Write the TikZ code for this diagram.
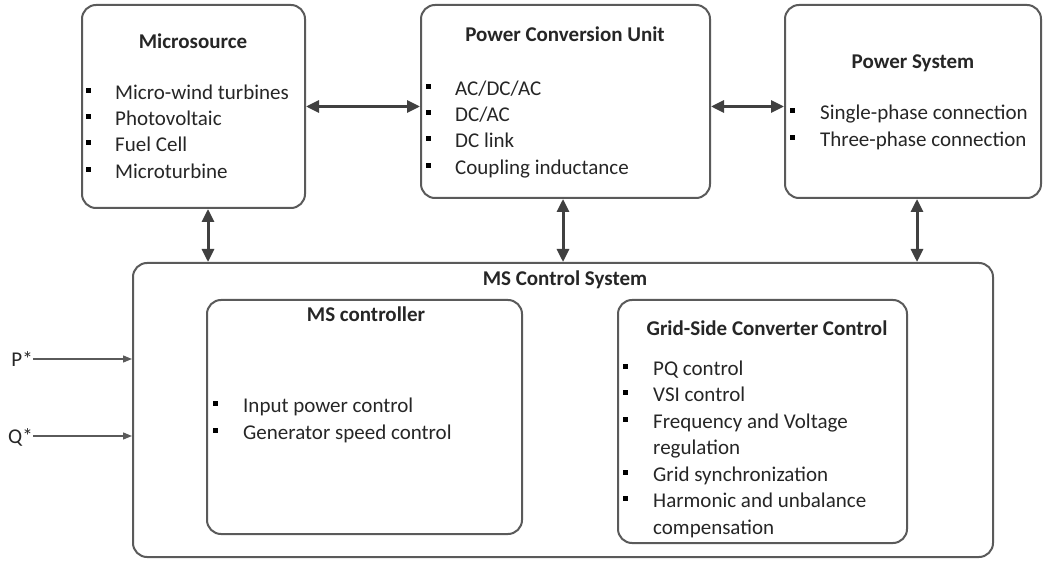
\documentclass[tikz,border=0pt]{standalone}
\usepackage{fontspec}
\setmainfont{Carlito}
\usetikzlibrary{arrows.meta}
\definecolor{edge}{HTML}{5A5A5A}
\definecolor{ink}{HTML}{262626}
\definecolor{arr}{HTML}{404040}
\tikzset{
 box/.style={draw=edge, line width=2pt, rounded corners=14pt, inner sep=0pt},
 ttl/.style={font=\fontsize{21}{25}\selectfont\bfseries, text=ink, anchor=base, inner sep=0pt},
 item/.style={font=\fontsize{21}{25}\selectfont, text=ink, anchor=base west, inner sep=0pt},
 bul/.style={fill=black, minimum size=5pt, inner sep=0pt},
 dbl/.style={{Triangle[length=13pt,width=12pt]}-{Triangle[length=13pt,width=12pt]}, line width=3pt, draw=arr},
 inp/.style={-{Triangle[length=9pt,width=7pt]}, line width=1.4pt, draw=edge}
}
\begin{document}
\begin{tikzpicture}[x=1pt,y=-1pt]
\fill[white] (0,0) rectangle (1044,561);
\useasboundingbox (0,0) rectangle (1044,561);
% boxes
\node[box, minimum width=223pt, minimum height=203pt] (micro) at (193.5,106.5) {};
\node[box, minimum width=289pt, minimum height=193pt] (pcu) at (565.5,101.5) {};
\node[box, minimum width=256pt, minimum height=193pt] (ps) at (913,101.5) {};
\node[box, minimum width=860pt, minimum height=294pt] (msc) at (563,410) {};
\node[box, minimum width=315pt, minimum height=234pt] (msctrl) at (364.5,417) {};
\node[box, minimum width=289pt, minimum height=243pt] (gscc) at (762.5,421.5) {};
% Microsource
\node[ttl] (t1) at (193,49) {Microsource};
\node[item] (m1) at (115,100) {Micro-wind turbines};
\node[item] (m2) at (115,126) {Photovoltaic};
\node[item] (m3) at (115,152) {Fuel Cell};
\node[item] (m4) at (115,179) {Microturbine};
\node[bul] (bm1) at (88,91) {};
\node[bul] (bm2) at (88,117) {};
\node[bul] (bm3) at (88,143) {};
\node[bul] (bm4) at (88,170) {};
% PCU
\node[ttl] (t2) at (565,42) {Power Conversion Unit};
\node[item] (p1) at (455,96) {AC/DC/AC};
\node[item] (p2) at (455,122) {DC/AC};
\node[item] (p3) at (455,148) {DC link};
\node[item] (p4) at (455,175) {Coupling inductance};
\node[bul] (bp1) at (428,87) {};
\node[bul] (bp2) at (428,113) {};
\node[bul] (bp3) at (428,139) {};
\node[bul] (bp4) at (428,166) {};
% Power System
\node[ttl] (t3) at (913,69) {Power System};
\node[item] (s1) at (820,120) {Single-phase connection};
\node[item] (s2) at (820,147) {Three-phase connection};
\node[bul] (bs1) at (792,111) {};
\node[bul] (bs2) at (792,138) {};
% MS Control System
\node[ttl] (t4) at (565,286) {MS Control System};
% MS controller
\node[ttl] (t5) at (366,322) {MS controller};
\node[item] (c1) at (243,412) {Input power control};
\node[item] (c2) at (243,439) {Generator speed control};
\node[bul] (bc1) at (215,403) {};
\node[bul] (bc2) at (215,430) {};
% Grid-side converter control
\node[ttl] (t6) at (767,335) {Grid-Side Converter Control};
\node[item] (g1) at (653,375) {PQ control};
\node[item] (g2) at (653,401.5) {VSI control};
\node[item] (g3) at (653,428) {Frequency and Voltage};
\node[item] (g3b) at (653,454.5) {regulation};
\node[item] (g4) at (653,481) {Grid synchronization};
\node[item] (g5) at (653,507.5) {Harmonic and unbalance};
\node[item] (g5b) at (653,534) {compensation};
\node[bul] (bg1) at (625,366) {};
\node[bul] (bg2) at (625,392.5) {};
\node[bul] (bg3) at (625,419) {};
\node[bul] (bg4) at (625,472) {};
\node[bul] (bg5) at (625,498.5) {};
% inputs
\node[item, anchor=base east] (pin) at (33,366) {P*};
\node[item, anchor=base east] (qin) at (33,443) {Q*};
\draw[inp] ([yshift=7pt]pin.base east) -- ([yshift=7pt]pin.base east -| msc.west);
\draw[inp] ([yshift=7pt]qin.base east) -- ([yshift=7pt]qin.base east -| msc.west);
% arrows
\draw[dbl] (micro.east) -- (micro.east -| pcu.west);
\draw[dbl] (pcu.east |- micro.east) -- (ps.west |- micro.east);
\draw[dbl] ([xshift=14.5pt]micro.south) -- ([xshift=14.5pt]micro.south |- msc.north);
\draw[dbl] ([xshift=-2.5pt]pcu.south) -- ([xshift=-2.5pt]pcu.south |- msc.north);
\draw[dbl] ([xshift=4pt]ps.south) -- ([xshift=4pt]ps.south |- msc.north);
\end{tikzpicture}
\end{document}
